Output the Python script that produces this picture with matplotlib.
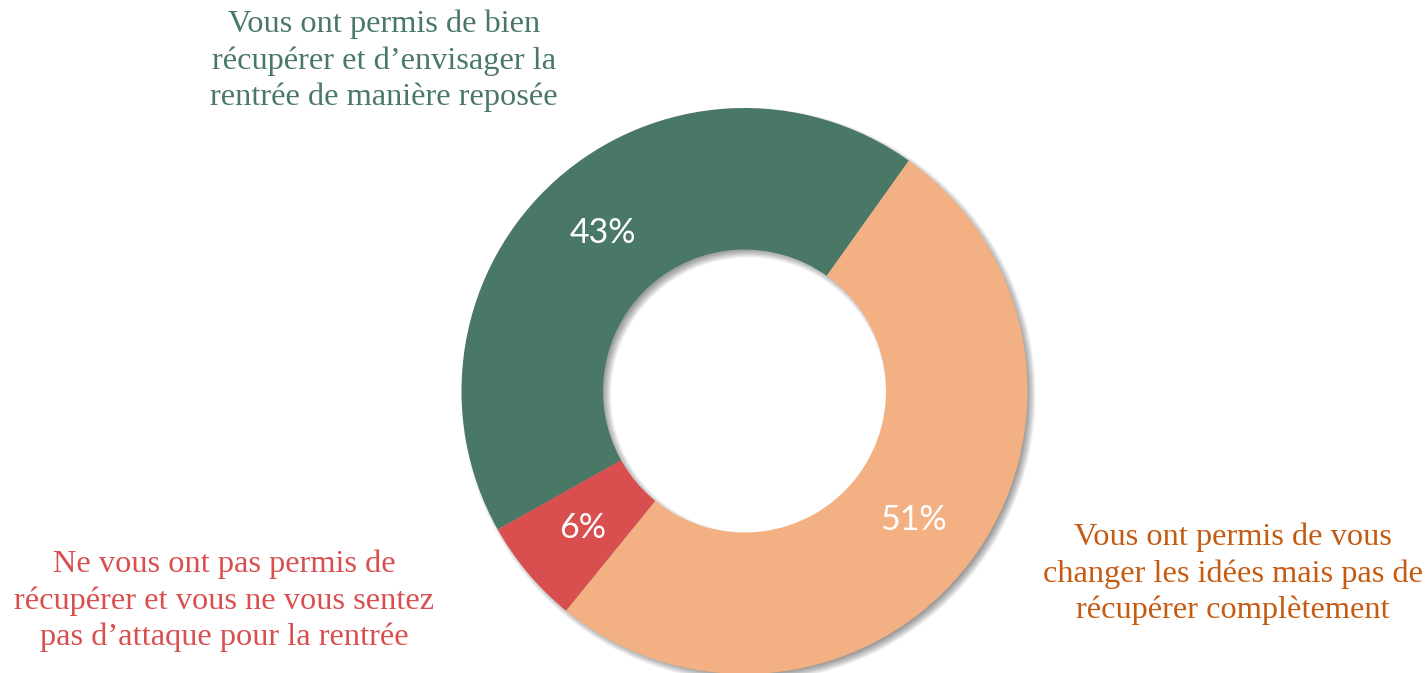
import numpy as np
import matplotlib
matplotlib.use("Agg")
import matplotlib.pyplot as plt
from matplotlib.patches import Wedge

# ---- data ----
categories = [
    "Vous ont permis de bien\nrécupérer et d’envisager la\nrentrée de manière reposée",
    "Vous ont permis de vous\nchanger les idées mais pas de\nrécupérer complètement",
    "Ne vous ont pas permis de\nrécupérer et vous ne vous sentez\npas d’attaque pour la rentrée",
]
values = [43, 51, 6]
slice_colors = ["#4A7866", "#F3B083", "#D94F50"]
text_colors = ["#4A7866", "#C55A11", "#D94F50"]

W, H = 1428, 673
fig = plt.figure(figsize=(W / 100, H / 100), dpi=100)
ax = fig.add_axes([0, 0, 1, 1])

cx, cy = 744.5, H - 391
R = 283
width = 0.5 * R
start = 209.3

# shadow (soft, offset to bottom-right)
for d in np.linspace(-4, 4, 9):
    ax.add_patch(Wedge((cx + 4, cy - 4), R + d, 0, 360, width=width + 2 * d,
                       facecolor="black", edgecolor="none", alpha=0.05))

wedges, texts, autotexts = ax.pie(
    values, colors=slice_colors, startangle=start, counterclock=False,
    radius=R, center=(cx, cy), wedgeprops=dict(width=width, edgecolor="none"),
    autopct=lambda p: f"{p:.0f}%", pctdistance=0.75,
    textprops=dict(color="white", fontsize=24.5, family="Lato"))

ax.set_xlim(0, W)
ax.set_ylim(0, H)
ax.set_aspect("equal")
ax.axis("off")

label_pos = [(384, H - 61), (1233, H - 574), (224, H - 601)]
for cat, col, (x, y) in zip(categories, text_colors, label_pos):
    ax.text(x, y, cat, ha="center", va="center", color=col, fontsize=23.3,
            family="Liberation Serif", linespacing=1.32)

fig.savefig("out.png", dpi=100)
